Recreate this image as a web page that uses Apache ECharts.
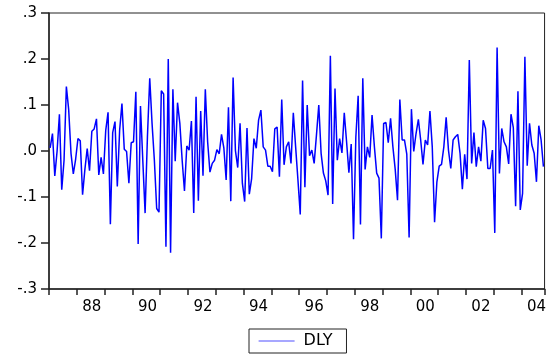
<!DOCTYPE html>
<html>
<head>
<meta charset="utf-8">
<script src="https://cdn.jsdelivr.net/npm/echarts@6/dist/echarts.min.js"></script>
<style>
  html, body { margin: 0; padding: 0; background: #fff; }
  #chart { width: 549px; height: 358px; }
</style>
</head>
<body>
<div id="chart"></div>
<script>
  // 月度数据 1987M01 - 2004M10
  var startYear = 1987
  var monthCount = 214
  var months = []
  for (var i = 0; i < monthCount; i++) {
    var y = startYear + Math.floor(i / 12)
    var m = (i % 12) + 1
    months.push(y + 'M' + (m < 10 ? '0' + m : m))
  }

  var dly = [
    0.007, 0.038, -0.054, 0.0, 0.08, -0.084, -0.02, 0.14, 0.09, -0.005, -0.05, -0.018,
    0.027, 0.022, -0.095, -0.04, 0.005, -0.043, 0.043, 0.048, 0.07, -0.052, -0.014, -0.05,
    0.045, 0.084, -0.159, 0.04, 0.064, -0.077, 0.045, 0.103, 0.004, -0.001, -0.07, 0.018,
    0.02, 0.129, -0.202, 0.098, -0.02, -0.135, 0.03, 0.158, 0.06, -0.02, -0.125, -0.133,
    0.131, 0.124, -0.208, 0.2, -0.221, 0.134, -0.022, 0.105, 0.06, -0.02, -0.087, 0.011,
    0.002, 0.065, -0.135, 0.118, -0.108, 0.087, -0.054, 0.134, 0.02, -0.046, -0.027, -0.02,
    0.003, -0.006, 0.036, 0.007, -0.063, 0.095, -0.109, 0.16, 0.001, -0.036, 0.06, -0.07,
    -0.11, 0.05, -0.094, -0.06, 0.027, 0.006, 0.067, 0.089, 0.009, 0.002, -0.033, -0.033,
    -0.045, 0.048, 0.052, -0.056, 0.112, -0.03, 0.009, 0.02, -0.027, 0.083, 0.009, -0.063,
    -0.138, 0.153, -0.079, 0.1, -0.01, 0.002, -0.027, 0.035, 0.1, -0.005, -0.048, -0.065,
    -0.096, 0.207, -0.115, 0.136, -0.02, 0.027, -0.004, 0.083, 0.02, -0.047, 0.015, -0.192,
    0.03, 0.12, -0.16, 0.158, -0.04, 0.009, -0.014, 0.078, 0.01, -0.048, -0.059, -0.19,
    0.06, 0.062, 0.018, 0.071, 0.009, -0.04, -0.107, 0.112, 0.024, 0.024, -0.007, -0.188,
    0.091, -0.001, 0.038, 0.069, 0.024, -0.029, 0.024, 0.013, 0.087, 0.009, -0.155, -0.067,
    -0.033, -0.029, 0.009, 0.073, 0.002, -0.038, 0.024, 0.031, 0.036, -0.005, -0.083, -0.007,
    -0.061, 0.198, -0.027, 0.04, -0.034, 0.009, -0.022, 0.067, 0.049, -0.038, -0.038, 0.002,
    -0.178, 0.225, -0.049, 0.049, 0.02, 0.009, -0.028, 0.08, 0.051, -0.12, 0.13, -0.128,
    -0.092, 0.205, -0.032, 0.06, 0.013, -0.005, -0.067, 0.055, 0.024, -0.034
  ]

  var yMin = -0.3
  var yMax = 0.3
  var yStep = 0.1

  var chart = echarts.init(document.getElementById('chart'), null, {renderer: 'canvas'})
  chart.setOption({
    animation: false,
    backgroundColor: '#fff',
    grid: {
      left: 49,
      top: 13,
      right: -1,
      bottom: 69,
      show: true,
      borderColor: '#222',
      borderWidth: 1
    },
    legend: {
      data: [{
        name: 'DLY',
        lineStyle: {color: '#5050ff', width: 1.2},
        itemStyle: {color: 'rgba(0,0,0,0)', borderWidth: 0, opacity: 0}
      }],
      left: 249,
      top: 329,
      padding: [4, 14, 4, 9],
      itemWidth: 36,
      itemHeight: 14,
      borderColor: '#222',
      borderWidth: 1,
      textStyle: {
        fontFamily: 'DejaVu Sans',
        fontSize: 16,
        color: '#000',
        padding: [0, 0, 0, 4]
      }
    },
    xAxis: {
      type: 'category',
      data: months,
      boundaryGap: true,
      axisLine: {show: true, onZero: false, lineStyle: {color: '#222', width: 1.5}},
      axisTick: {
        show: true,
        length: 6,
        lineStyle: {color: '#222', width: 1.5},
        interval: function (idx, val) {
          return val.slice(5) === '01'
        }
      },
      axisLabel: {
        interval: function (idx, val) {
          var yr = parseInt(val.slice(0, 4))
          return val.slice(5) === '07' && yr % 2 === 0
        },
        formatter: function (val) {
          return val.slice(2, 4)
        },
        margin: 11,
        fontFamily: 'DejaVu Sans',
        fontSize: 15,
        color: '#000'
      },
      splitLine: {show: false}
    },
    yAxis: {
      type: 'value',
      min: yMin,
      max: yMax,
      interval: yStep,
      axisLine: {show: true, lineStyle: {color: '#222', width: 1.5}},
      axisTick: {show: true, length: 8, lineStyle: {color: '#222', width: 1.5}},
      axisLabel: {
        margin: 12,
        fontFamily: 'DejaVu Sans',
        fontSize: 15,
        color: '#000',
        formatter: function (v) {
          return v.toFixed(1).replace('0.', '.')
        }
      },
      splitLine: {show: false}
    },
    series: [{
      name: 'DLY',
      type: 'line',
      data: dly,
      symbol: 'none',
      lineStyle: {color: '#0000ff', width: 1.5},
      itemStyle: {color: '#0000ff'}
    }]
  })
</script>
</body>
</html>
